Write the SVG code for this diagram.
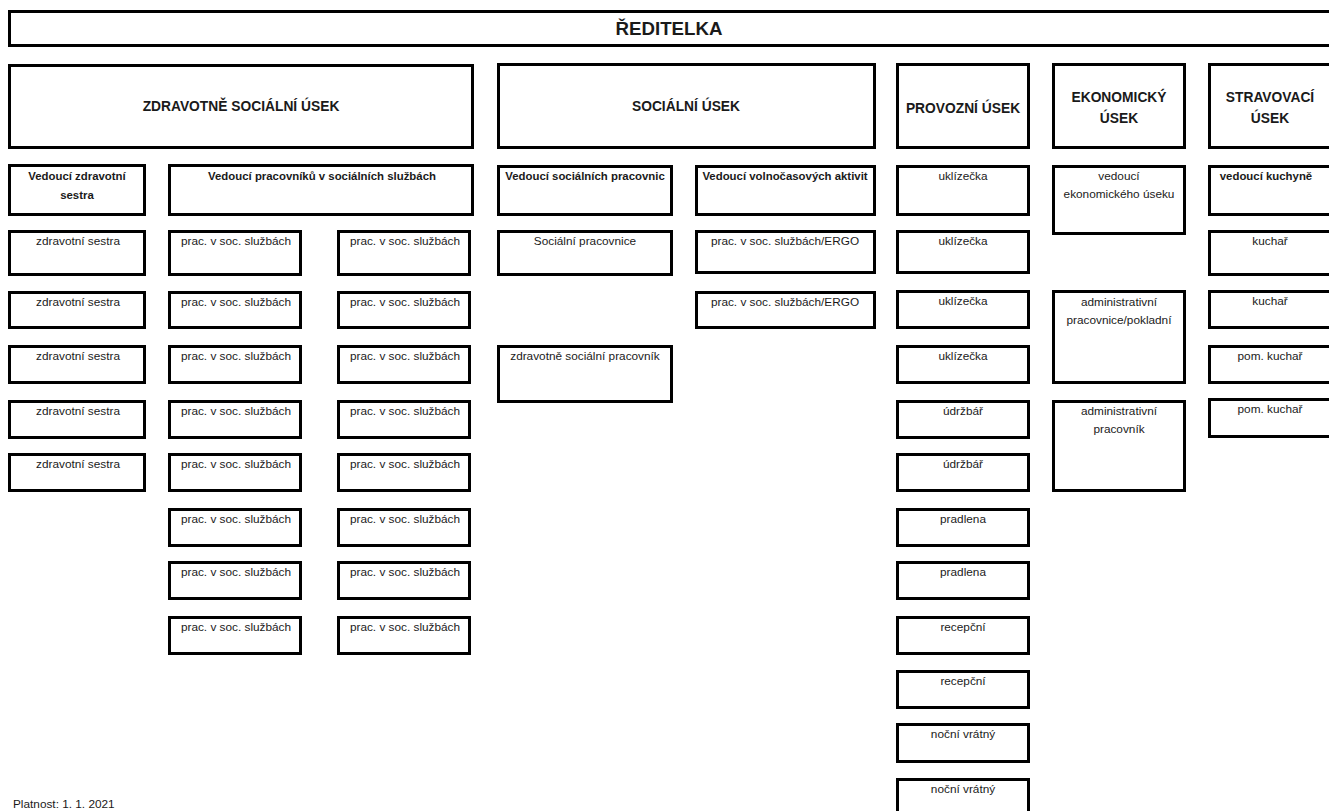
<svg xmlns="http://www.w3.org/2000/svg" width="1329" height="811" viewBox="0 0 1329 811">
<style>
.box{fill:#fff;stroke:#000;stroke-width:3}
text{font-family:"Liberation Sans",Arial,sans-serif;fill:#1a1a1a;text-anchor:middle}
.t{font-size:11.8px}
.b{font-size:11.4px;font-weight:bold}
.h{font-size:13.8px;font-weight:bold}
.ti{font-size:18.7px;font-weight:bold}
</style>
<rect width="1329" height="811" fill="#fff"/>
<g id="connectors"></g>
<g id="reditelka"><rect class="box" x="9.5" y="11.5" width="1324" height="34"/><text class="ti" x="669" y="35">ŘEDITELKA</text></g>

<g id="zs-usek"><rect class="box" x="9.5" y="65.5" width="463" height="82"/><text class="h" x="241" y="111">ZDRAVOTNĚ SOCIÁLNÍ ÚSEK</text></g>
<g id="soc-usek"><rect class="box" x="498.5" y="64.5" width="376" height="83"/><text class="h" x="686" y="111">SOCIÁLNÍ ÚSEK</text></g>
<g id="prov-usek"><rect class="box" x="897.5" y="64.5" width="131" height="83"/><text class="h" x="963" y="113">PROVOZNÍ ÚSEK</text></g>
<g id="eko-usek"><rect class="box" x="1053.5" y="64.5" width="131" height="83"/><text class="h" x="1119" y="102">EKONOMICKÝ</text><text class="h" x="1119" y="123">ÚSEK</text></g>
<g id="strav-usek"><rect class="box" x="1209.5" y="64.5" width="131" height="83"/><text class="h" x="1270" y="102">STRAVOVACÍ</text><text class="h" x="1270" y="123">ÚSEK</text></g>

<g id="ved-zdr"><rect class="box" x="9.5" y="165.5" width="135" height="49"/><text class="b" x="77" y="180">Vedoucí zdravotní</text><text class="b" x="77" y="199">sestra</text></g>
<g id="ved-pss"><rect class="box" x="169.5" y="165.5" width="303" height="49"/><text class="b" x="322" y="180">Vedoucí pracovníků v sociálních službách</text></g>
<g id="ved-sp"><rect class="box" x="498.5" y="166.5" width="173" height="48"/><text class="b" x="585" y="180">Vedoucí sociálních pracovnic</text></g>
<g id="ved-va"><rect class="box" x="696.5" y="166.5" width="178" height="48"/><text class="b" x="785" y="180">Vedoucí volnočasových aktivit</text></g>
<g id="ukl1"><rect class="box" x="897.5" y="166.5" width="131" height="48"/><text class="t" x="963" y="180">uklízečka</text></g>
<g id="ved-eko"><rect class="box" x="1053.5" y="166.5" width="131" height="67"/><text class="t" x="1119" y="180">vedoucí</text><text class="t" x="1119" y="198">ekonomického úseku</text></g>
<g id="ved-kuch"><rect class="box" x="1209.5" y="166.5" width="131" height="48"/><text class="b" x="1266" y="180">vedoucí kuchyně</text></g>

<!-- zdravotní sestry -->
<g id="zs1"><rect class="box" x="9.5" y="231.5" width="135" height="43"/><text class="t" x="78" y="245">zdravotní sestra</text></g>
<g id="zs2"><rect class="box" x="9.5" y="292.5" width="135" height="35"/><text class="t" x="78" y="306">zdravotní sestra</text></g>
<g id="zs3"><rect class="box" x="9.5" y="346.5" width="135" height="36"/><text class="t" x="78" y="360">zdravotní sestra</text></g>
<g id="zs4"><rect class="box" x="9.5" y="401.5" width="135" height="36"/><text class="t" x="78" y="415">zdravotní sestra</text></g>
<g id="zs5"><rect class="box" x="9.5" y="454.5" width="135" height="36"/><text class="t" x="78" y="468">zdravotní sestra</text></g>

<!-- prac col 1 -->
<g id="pa1"><rect class="box" x="169.5" y="231.5" width="131" height="43"/><text class="t" x="236" y="245">prac. v soc. službách</text></g>
<g id="pa2"><rect class="box" x="169.5" y="292.5" width="131" height="35"/><text class="t" x="236" y="306">prac. v soc. službách</text></g>
<g id="pa3"><rect class="box" x="169.5" y="346.5" width="131" height="36"/><text class="t" x="236" y="360">prac. v soc. službách</text></g>
<g id="pa4"><rect class="box" x="169.5" y="401.5" width="131" height="36"/><text class="t" x="236" y="415">prac. v soc. službách</text></g>
<g id="pa5"><rect class="box" x="169.5" y="454.5" width="131" height="36"/><text class="t" x="236" y="468">prac. v soc. službách</text></g>
<g id="pa6"><rect class="box" x="169.5" y="509.5" width="131" height="36"/><text class="t" x="236" y="523">prac. v soc. službách</text></g>
<g id="pa7"><rect class="box" x="169.5" y="562.5" width="131" height="36"/><text class="t" x="236" y="576">prac. v soc. službách</text></g>
<g id="pa8"><rect class="box" x="169.5" y="617.5" width="131" height="36"/><text class="t" x="236" y="631">prac. v soc. službách</text></g>

<!-- prac col 2 -->
<g id="pb1"><rect class="box" x="338.5" y="231.5" width="131" height="43"/><text class="t" x="405" y="245">prac. v soc. službách</text></g>
<g id="pb2"><rect class="box" x="338.5" y="292.5" width="131" height="35"/><text class="t" x="405" y="306">prac. v soc. službách</text></g>
<g id="pb3"><rect class="box" x="338.5" y="346.5" width="131" height="36"/><text class="t" x="405" y="360">prac. v soc. službách</text></g>
<g id="pb4"><rect class="box" x="338.5" y="401.5" width="131" height="36"/><text class="t" x="405" y="415">prac. v soc. službách</text></g>
<g id="pb5"><rect class="box" x="338.5" y="454.5" width="131" height="36"/><text class="t" x="405" y="468">prac. v soc. službách</text></g>
<g id="pb6"><rect class="box" x="338.5" y="509.5" width="131" height="36"/><text class="t" x="405" y="523">prac. v soc. službách</text></g>
<g id="pb7"><rect class="box" x="338.5" y="562.5" width="131" height="36"/><text class="t" x="405" y="576">prac. v soc. službách</text></g>
<g id="pb8"><rect class="box" x="338.5" y="617.5" width="131" height="36"/><text class="t" x="405" y="631">prac. v soc. službách</text></g>

<!-- social -->
<g id="soc-prac"><rect class="box" x="498.5" y="231.5" width="173" height="43"/><text class="t" x="585" y="245">Sociální pracovnice</text></g>
<g id="ergo1"><rect class="box" x="696.5" y="231.5" width="178" height="41"/><text class="t" x="785" y="245">prac. v soc. službách/ERGO</text></g>
<g id="ergo2"><rect class="box" x="696.5" y="292.5" width="178" height="35"/><text class="t" x="785" y="306">prac. v soc. službách/ERGO</text></g>
<g id="zsp"><rect class="box" x="498.5" y="346.5" width="173" height="55"/><text class="t" x="585" y="360">zdravotně sociální pracovník</text></g>

<!-- provozní -->
<g id="ukl2"><rect class="box" x="897.5" y="231.5" width="131" height="41"/><text class="t" x="963" y="245">uklízečka</text></g>
<g id="ukl3"><rect class="box" x="897.5" y="291.5" width="131" height="36"/><text class="t" x="963" y="305">uklízečka</text></g>
<g id="ukl4"><rect class="box" x="897.5" y="346.5" width="131" height="36"/><text class="t" x="963" y="360">uklízečka</text></g>
<g id="udr1"><rect class="box" x="897.5" y="401.5" width="131" height="36"/><text class="t" x="963" y="415">údržbář</text></g>
<g id="udr2"><rect class="box" x="897.5" y="454.5" width="131" height="36"/><text class="t" x="963" y="468">údržbář</text></g>
<g id="pra1"><rect class="box" x="897.5" y="509.5" width="131" height="36"/><text class="t" x="963" y="523">pradlena</text></g>
<g id="pra2"><rect class="box" x="897.5" y="562.5" width="131" height="36"/><text class="t" x="963" y="576">pradlena</text></g>
<g id="rec1"><rect class="box" x="897.5" y="617.5" width="131" height="36"/><text class="t" x="963" y="631">recepční</text></g>
<g id="rec2"><rect class="box" x="897.5" y="671.5" width="131" height="36"/><text class="t" x="963" y="685">recepční</text></g>
<g id="noc1"><rect class="box" x="897.5" y="724.5" width="131" height="37"/><text class="t" x="963" y="738">noční vrátný</text></g>
<g id="noc2"><rect class="box" x="897.5" y="779.5" width="131" height="38"/><text class="t" x="963" y="793">noční vrátný</text></g>

<!-- ekonomický -->
<g id="adm1"><rect class="box" x="1053.5" y="291.5" width="131" height="91"/><text class="t" x="1119" y="306">administrativní</text><text class="t" x="1119" y="324">pracovnice/pokladní</text></g>
<g id="adm2"><rect class="box" x="1053.5" y="401.5" width="131" height="89"/><text class="t" x="1119" y="415">administrativní</text><text class="t" x="1119" y="433">pracovník</text></g>

<!-- stravovací -->
<g id="kuch1"><rect class="box" x="1209.5" y="231.5" width="131" height="43"/><text class="t" x="1270" y="245">kuchař</text></g>
<g id="kuch2"><rect class="box" x="1209.5" y="291.5" width="131" height="36"/><text class="t" x="1270" y="305">kuchař</text></g>
<g id="pom1"><rect class="box" x="1209.5" y="346.5" width="131" height="36"/><text class="t" x="1270" y="360">pom. kuchař</text></g>
<g id="pom2"><rect class="box" x="1209.5" y="399.5" width="131" height="37"/><text class="t" x="1270" y="413">pom. kuchař</text></g>

<text class="t" x="13" y="808" style="text-anchor:start">Platnost: 1. 1. 2021</text>
</svg>
